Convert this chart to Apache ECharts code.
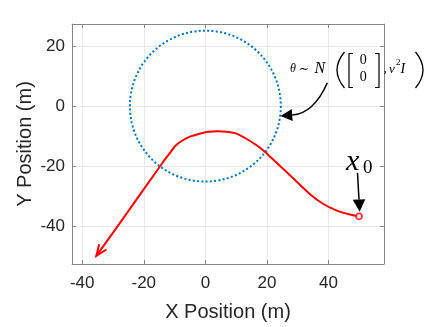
<!DOCTYPE html>
<html><head><meta charset="utf-8">
<script src="https://cdn.jsdelivr.net/npm/echarts@6/dist/echarts.min.js"></script>
<style>html,body{margin:0;padding:0;background:#fff}#c{width:436px;height:327px}</style>
</head><body><div id="c"></div>
<script>
// ---- data ----
const xTicks = [-40, -20, 0, 20, 40];
const yTicks = [-40, -20, 0, 20];
const xRange = [-43.3, 58];
const yRange = [-52.7, 27.4];
const pathX = [49.9, 46.9, 42.5, 38.2, 33.9, 28.4, 19.3, 16.5, 13.3, 10.1, 7.0, 4.1, 1.0, -1.9, -4.8, -7.3, -9.8, -11.6, -13.0, -14.3, -19.0, -24.5, -29.8, -35.4];
const pathY = [-36.8, -36.2, -34.8, -32.6, -29.3, -24.0, -15.2, -13.0, -10.9, -9.2, -8.6, -8.4, -8.6, -9.2, -10.1, -11.4, -13.3, -15.8, -17.6, -19.5, -26.3, -34.3, -42.0, -50.0];
const circleCenter = [0, 0];
const circleRadius = 24.5;
const startPoint = [49.9, -36.8];
// annotation anchors (data units)
const x0ArrowFrom = [49.4, -22.3];
const x0ArrowTip = [50.1, -35.3];
const thetaArrowStart = [39.6, 7.8];
const thetaArrowCtrl = [35.2, -2.5];
const thetaArrowBase = [28.2, -3.0];
const thetaArrowTip = [24.4, -3.3];

const chart = echarts.init(document.getElementById('c'), null, {renderer: 'canvas'});
const axisCol = '#858585';
const lblCol = '#262626';
const sans = 'Liberation Sans';

function headPoly(tip, base, halfW) {
  const dx = tip[0] - base[0], dy = tip[1] - base[1];
  const L = Math.hypot(dx, dy) || 1;
  const nx = -dy / L, ny = dx / L;
  return [tip, [base[0] + nx * halfW, base[1] + ny * halfW], [base[0] - nx * halfW, base[1] - ny * halfW]];
}
function txt(x, y, text, font, extra) {
  return {type: 'text', x: x, y: y, z: 100,
    style: Object.assign({text: text, font: font, fill: '#000', align: 'left', verticalAlign: 'middle'}, extra || {})};
}

const n = pathX.length;
const option = {
  animation: false,
  backgroundColor: '#ffffff',
  grid: {left: 72, right: 52, top: 24, bottom: 57, containLabel: false},
  xAxis: [{
    type: 'value', position: 'bottom', min: xRange[0], max: xRange[1],
    axisLine: {show: true, onZero: false, lineStyle: {color: axisCol, width: 1}},
    axisTick: {show: true, inside: true, length: 4, customValues: xTicks, lineStyle: {color: axisCol}},
    axisLabel: {customValues: xTicks, margin: 11, fontSize: 17, color: lblCol, fontFamily: sans},
    splitLine: {show: true, lineStyle: {color: '#e8e8e8', width: 1}},
    name: 'X Position (m)', nameLocation: 'middle', nameGap: 38, nameMoveOverlap: false,
    nameTextStyle: {fontSize: 20, color: lblCol, fontFamily: sans}
  }, {
    type: 'value', position: 'top', min: xRange[0], max: xRange[1],
    axisLine: {show: true, onZero: false, lineStyle: {color: axisCol, width: 1}},
    axisTick: {show: true, inside: true, length: 4, customValues: xTicks, lineStyle: {color: axisCol}},
    axisLabel: {show: false}, splitLine: {show: false}
  }],
  yAxis: [{
    type: 'value', position: 'left', min: yRange[0], max: yRange[1],
    axisLine: {show: true, onZero: false, lineStyle: {color: axisCol, width: 1}},
    axisTick: {show: true, inside: true, length: 4, customValues: yTicks, lineStyle: {color: axisCol}},
    axisLabel: {customValues: yTicks, margin: 7, fontSize: 17, color: lblCol, fontFamily: sans},
    splitLine: {show: true, lineStyle: {color: '#e8e8e8', width: 1}},
    name: 'Y Position (m)', nameLocation: 'middle', nameGap: 37, nameMoveOverlap: false,
    nameTextStyle: {fontSize: 20, color: lblCol, fontFamily: sans}
  }, {
    type: 'value', position: 'right', min: yRange[0], max: yRange[1],
    axisLine: {show: true, onZero: false, lineStyle: {color: axisCol, width: 1}},
    axisTick: {show: true, inside: true, length: 4, customValues: yTicks, lineStyle: {color: axisCol}},
    axisLabel: {show: false}, splitLine: {show: false}
  }],
  series: [
    {
      type: 'custom', silent: true, z: 2,
      data: [[circleCenter[0], circleCenter[1], circleRadius]],
      renderItem: function (p, api) {
        const c = api.coord([api.value(0), api.value(1)]);
        const r = api.size([api.value(2), 0])[0];
        return {type: 'circle', shape: {cx: c[0], cy: c[1], r: r},
          style: {fill: 'none', stroke: '#0072BD', lineWidth: 2, lineDash: [2, 2.3]}};
      }
    },
    {
      type: 'line', silent: true, z: 3, showSymbol: false, smooth: 0.2,
      data: pathX.map((x, i) => [x, pathY[i]]),
      lineStyle: {color: '#FF0000', width: 2}
    },
    {
      type: 'custom', silent: true, z: 3,
      data: [[pathX[n - 2], pathY[n - 2], pathX[n - 1], pathY[n - 1]]],
      renderItem: function (p, api) {
        const a = api.coord([api.value(0), api.value(1)]);
        const b = api.coord([api.value(2), api.value(3)]);
        const ang = Math.atan2(a[1] - b[1], a[0] - b[0]);
        const L = 12, h = 22 * Math.PI / 180;
        const p1 = [b[0] + L * Math.cos(ang + h), b[1] + L * Math.sin(ang + h)];
        const p2 = [b[0] + L * Math.cos(ang - h), b[1] + L * Math.sin(ang - h)];
        return {type: 'polyline', shape: {points: [p1, b, p2]},
          style: {fill: 'none', stroke: '#FF0000', lineWidth: 2}};
      }
    },
    {
      type: 'scatter', silent: true, z: 4,
      data: [startPoint], symbol: 'circle', symbolSize: 6,
      itemStyle: {color: '#ffffff', borderColor: '#FF0000', borderWidth: 1.6}
    },
    {
      type: 'custom', silent: true, z: 5, clip: false,
      data: [[0]],
      renderItem: function (p, api) {
        const f = api.coord(x0ArrowFrom), t = api.coord(x0ArrowTip);
        const d = Math.hypot(t[0] - f[0], t[1] - f[1]);
        const base = [t[0] - (t[0] - f[0]) * 12.4 / d, t[1] - (t[1] - f[1]) * 12.4 / d];
        const s = api.coord(thetaArrowStart), c = api.coord(thetaArrowCtrl);
        const tb = api.coord(thetaArrowBase), tt = api.coord(thetaArrowTip);
        return {type: 'group', children: [
          {type: 'line', shape: {x1: f[0], y1: f[1], x2: base[0], y2: base[1]},
            style: {stroke: '#000', lineWidth: 1.5}},
          {type: 'polygon', shape: {points: headPoly(t, base, 6.3)}, style: {fill: '#000'}},
          {type: 'bezierCurve', shape: {x1: s[0], y1: s[1], cpx1: c[0], cpy1: c[1], x2: tb[0], y2: tb[1]},
            style: {stroke: '#000', lineWidth: 1.5, fill: 'none'}},
          {type: 'polygon', shape: {points: headPoly(tt, tb, 6)}, style: {fill: '#000'}}
        ]};
      }
    }
  ],
  graphic: [
    // x_0 label
    txt(346, 162, 'x', 'italic 30px "Liberation Serif"'),
    txt(363, 168.5, '0', '19px "Liberation Serif"'),
    // theta ~ N([0;0], v^2 I)
    txt(290, 69, 'θ', 'italic 12px "Liberation Serif"'),
    txt(298.5, 70, '∼', '13px "DejaVu Serif"'),
    txt(314.5, 68.5, 'N', 'italic 16px "Liberation Serif"'),
    {type: 'bezierCurve', z: 100, shape: {x1: 344.5, y1: 52, cpx1: 329.5, cpy1: 70, x2: 344.5, y2: 88}, style: {stroke: '#000', lineWidth: 1.3, fill: 'none'}},
    {type: 'polyline', z: 100, shape: {points: [[353, 53.5], [349, 53.5], [349, 87.5], [353, 87.5]]}, style: {stroke: '#000', lineWidth: 1.2, fill: 'none'}},
    txt(363.3, 60.5, '0', '14px "Liberation Serif"', {align: 'center'}),
    txt(363.3, 77, '0', '14px "Liberation Serif"', {align: 'center'}),
    {type: 'polyline', z: 100, shape: {points: [[375, 53.5], [379, 53.5], [379, 87.5], [375, 87.5]]}, style: {stroke: '#000', lineWidth: 1.2, fill: 'none'}},
    txt(383.5, 69, ',', '13px "Liberation Serif"'),
    txt(389, 70, 'v', 'italic 13px "Liberation Serif"'),
    txt(396, 62.5, '2', '9px "Liberation Serif"'),
    txt(400.5, 69.5, 'I', 'italic 14px "Liberation Serif"'),
    {type: 'bezierCurve', z: 100, shape: {x1: 415.5, y1: 52, cpx1: 430.5, cpy1: 70, x2: 415.5, y2: 88}, style: {stroke: '#000', lineWidth: 1.3, fill: 'none'}}
  ]
};
chart.setOption(option);
</script>
</body></html>
